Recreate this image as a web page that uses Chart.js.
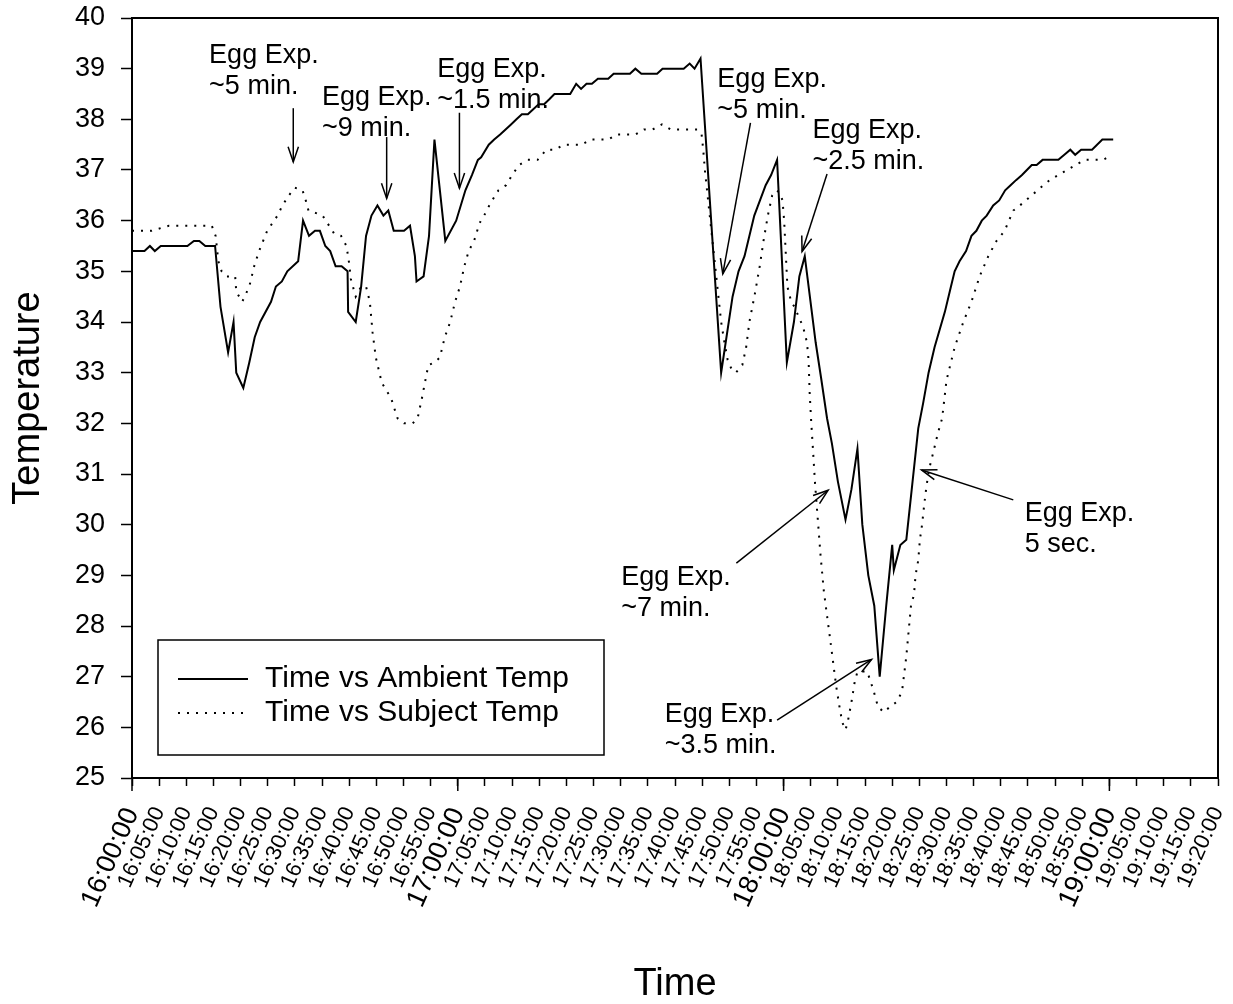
<!DOCTYPE html>
<html><head><meta charset="utf-8">
<script src="https://cdn.jsdelivr.net/npm/chart.js@4.4.0/dist/chart.umd.min.js"></script>
<style>html,body{margin:0;padding:0;background:#fff;}#wrap{width:1233px;height:1004px;}</style>
</head><body><div id="wrap"><canvas id="c" width="1233" height="1004"></canvas></div>
<script>
// minutes after 16:00:00
const ambientMinutes = [0,2.3,3.3,4.2,5.3,10.2,11.4,12.4,13.5,15.3,16.3,17.7,18.7,19.2,20.5,21.6,22.6,23.6,25.6,26.5,27.6,28.6,30.6,31.5,32.6,33.7,34.6,35.6,36.5,37.5,38.6,39.7,39.8,41.2,42.2,43.1,44.1,45.2,46.3,47.2,48.2,50.1,51.2,52.1,52.4,53.7,54.7,55.7,57.7,59.7,61.4,62.6,63.7,64.3,65.7,66.7,67.8,68.8,69.8,70.8,71.8,72.9,73.9,74.9,75.9,76.9,77.8,80.7,81.8,82.7,83.7,84.7,85.8,87.7,88.7,91.7,92.7,93.8,96.7,97.7,101.6,102.7,103.6,104.7,108.5,110.6,111.7,112.8,114.6,116.7,117.7,118.8,120.6,121.9,122.9,123.9,125.9,126.9,128.0,128.9,130.0,131.4,132.5,133.6,134.5,135.6,136.7,137.7,138.9,140.0,140.3,141.5,142.6,143.7,144.8,145.7,146.7,147.8,149.7,150.6,151.5,152.4,153.6,154.6,155.5,156.5,157.4,158.6,159.7,160.8,161.8,162.8,163.9,164.8,165.7,166.6,167.7,170.6,171.7,172.8,173.7,174.8,176.8,178.7,180.7];
const ambientTemp = [35.4,35.4,35.5,35.4,35.5,35.5,35.6,35.6,35.5,35.5,34.3,33.4,34.0,33.0,32.7,33.2,33.7,34.0,34.4,34.7,34.8,35.0,35.2,36.0,35.7,35.8,35.8,35.5,35.4,35.1,35.1,35.0,34.2,34.0,34.7,35.7,36.1,36.3,36.1,36.2,35.8,35.8,35.9,35.3,34.8,34.9,35.7,37.6,35.6,36.0,36.6,36.9,37.2,37.25,37.5,37.6,37.7,37.8,37.9,38.0,38.1,38.1,38.2,38.3,38.3,38.4,38.5,38.5,38.7,38.6,38.7,38.7,38.8,38.8,38.9,38.9,39.0,38.9,38.9,39.0,39.0,39.1,39.0,39.2,33.0,34.5,35.0,35.3,36.1,36.7,36.9,37.2,33.2,34.0,34.9,35.3,33.6,32.9,32.1,31.6,30.85,30.1,30.7,31.5,30.0,29.0,28.4,27.0,28.4,29.6,29.1,29.6,29.7,30.8,31.9,32.4,33.0,33.5,34.2,34.6,35.0,35.2,35.4,35.7,35.8,36.0,36.1,36.3,36.4,36.6,36.7,36.8,36.9,37.0,37.1,37.1,37.2,37.2,37.3,37.4,37.3,37.4,37.4,37.6,37.6];
const subjectMinutes = [0,3.6,6.8,14.7,15.4,15.9,16.5,17.4,18.2,19.0,19.2,20.3,21.6,22.5,23.4,24.9,26.8,27.7,28.9,30.0,31.4,32.0,32.5,33.9,35.1,36.3,37.2,38.5,39.5,40.0,40.3,41.2,42.2,43.1,43.8,44.3,44.9,46.0,47.7,48.9,50.1,51.7,52.6,53.4,54.3,54.6,55.7,56.7,57.6,58.6,59.5,60.4,61.2,62.0,63.0,64.0,65.1,65.8,66.9,67.5,68.9,70.0,71.3,72.9,74.7,76.3,77.9,79.5,82.8,84.4,86.1,87.7,89.3,91.0,92.7,94.3,95.9,97.6,99.2,104.1,104.9,105.2,105.5,106.2,106.8,107.4,108.0,108.5,109.1,109.7,110.3,111.2,112.4,113.1,113.7,114.7,115.6,116.3,117.1,117.9,118.7,119.3,119.8,120.1,120.4,120.7,121.4,122.0,122.8,123.6,124.3,124.6,124.8,125.1,125.4,125.8,126.3,126.8,127.4,128.0,128.5,129.1,129.7,130.3,130.8,131.4,131.8,132.5,133.1,133.6,134.6,135.4,136.5,137.4,138.5,139.5,140.8,141.8,142.2,142.6,142.9,143.2,143.5,144.0,144.3,144.8,145.1,145.5,145.9,146.3,146.8,147.5,148.4,149.2,150.0,151.5,153.1,154.6,156.1,157.7,159.2,160.7,162.3,164.1,165.7,167.3,169.0,170.6,172.2,173.8,175.5,177.3,178.9,180.4];
const subjectTemp = [35.8,35.8,35.9,35.9,35.7,35.2,35.0,34.9,34.9,34.9,34.6,34.4,34.7,35.1,35.4,35.8,36.1,36.3,36.5,36.65,36.6,36.4,36.2,36.15,36.1,35.9,35.75,35.7,35.5,35.15,34.85,34.5,34.7,34.7,34.4,33.8,33.3,32.8,32.5,32.1,32.0,32.0,32.1,32.5,33.0,33.15,33.2,33.3,33.7,34.0,34.4,34.7,35.1,35.4,35.6,35.95,36.15,36.3,36.5,36.6,36.7,36.9,37.1,37.2,37.2,37.4,37.4,37.5,37.5,37.6,37.6,37.6,37.7,37.7,37.7,37.8,37.8,37.9,37.8,37.8,37.7,37.4,37.0,36.3,35.7,35.1,34.5,34.0,33.6,33.25,33.1,33.0,33.15,33.5,34.0,34.55,35.1,35.6,36.1,36.5,36.6,36.55,36.4,36.0,35.35,34.7,34.4,34.3,34.1,33.9,33.6,33.25,32.6,32.0,31.5,30.8,30.1,29.4,28.7,28.2,27.8,27.3,26.8,26.4,26.1,25.95,26.1,26.5,26.9,27.1,27.1,27.1,26.75,26.4,26.3,26.4,26.5,26.7,27.05,27.4,27.75,28.1,28.45,28.6,29.0,29.3,29.7,30.0,30.4,30.75,31.1,31.4,31.8,32.1,32.85,33.5,34.0,34.4,34.9,35.3,35.6,35.8,36.2,36.35,36.5,36.65,36.8,36.9,37.0,37.1,37.2,37.2,37.2,37.3];
const xTickLabels = ["16:00:00","16:05:00","16:10:00","16:15:00","16:20:00","16:25:00","16:30:00","16:35:00","16:40:00","16:45:00","16:50:00","16:55:00","17:00:00","17:05:00","17:10:00","17:15:00","17:20:00","17:25:00","17:30:00","17:35:00","17:40:00","17:45:00","17:50:00","17:55:00","18:00:00","18:05:00","18:10:00","18:15:00","18:20:00","18:25:00","18:30:00","18:35:00","18:40:00","18:45:00","18:50:00","18:55:00","19:00:00","19:05:00","19:10:00","19:15:00","19:20:00"];
const seriesNames = ["Time vs Ambient Temp","Time vs Subject Temp"];
// annotations: text anchor and arrow (tail -> tip) in data coordinates (minutes, temperature)
const annotations = [
  {lines:["Egg Exp.","~5 min."],   text:[14.2,39.11], tail:[29.7,38.22], tip:[29.7,37.16]},
  {lines:["Egg Exp.","~9 min."],   text:[35.0,38.28], tail:[46.9,37.65], tip:[46.9,36.44]},
  {lines:["Egg Exp.","~1.5 min."], text:[56.2,38.84], tail:[60.3,38.13], tip:[60.3,36.64]},
  {lines:["Egg Exp.","~5 min."],   text:[107.8,38.64], tail:[113.9,37.93], tip:[108.8,34.95]},
  {lines:["Egg Exp.","~2.5 min."], text:[125.3,37.63], tail:[128.0,36.92], tip:[123.4,35.39]},
  {lines:["Egg Exp.","~7 min."],   text:[90.1,28.81], tail:[111.3,29.24], tip:[128.2,30.68]},
  {lines:["Egg Exp.","~3.5 min."], text:[98.1,26.11], tail:[118.8,26.14], tip:[136.2,27.34]},
  {lines:["Egg Exp.","5 sec."],    text:[164.4,30.07], tail:[162.3,30.49], tip:[145.4,31.08]}
];

const FONT = "'Liberation Sans', Arial, sans-serif";
const toXY = (xs, ys) => xs.map((x, i) => ({x, y: ys[i]}));

function drawArrow(ctx, x1, y1, x2, y2) {
  ctx.beginPath(); ctx.moveTo(x1, y1); ctx.lineTo(x2, y2); ctx.stroke();
  const a = Math.atan2(y2 - y1, x2 - x1), L = 16, h = 0.33;
  ctx.beginPath();
  ctx.moveTo(x2 - L*Math.cos(a - h), y2 - L*Math.sin(a - h));
  ctx.lineTo(x2, y2);
  ctx.lineTo(x2 - L*Math.cos(a + h), y2 - L*Math.sin(a + h));
  ctx.stroke();
}

const decorPlugin = {
  id: 'decor',
  afterDraw(chart) {
    const {ctx, chartArea: a, scales: {x, y}} = chart;
    ctx.save();
    ctx.strokeStyle = '#000'; ctx.lineWidth = 2;
    ctx.strokeRect(a.left, a.top, a.right - a.left, a.bottom - a.top);
    // longer major (hour) ticks
    ctx.lineWidth = 1.5;
    x.ticks.forEach(t => {
      if (t.value % 60 === 0) {
        const px = x.getPixelForValue(t.value);
        ctx.beginPath(); ctx.moveTo(px, a.bottom); ctx.lineTo(px, a.bottom + 13); ctx.stroke();
      }
    });
    // annotations
    ctx.fillStyle = '#000'; ctx.font = '27px ' + FONT; ctx.textBaseline = 'alphabetic'; ctx.textAlign = 'left';
    ctx.lineWidth = 1.5;
    annotations.forEach(an => {
      const tx = x.getPixelForValue(an.text[0]), ty = y.getPixelForValue(an.text[1]);
      an.lines.forEach((s, i) => ctx.fillText(s, tx, ty + i * 31));
      drawArrow(ctx, x.getPixelForValue(an.tail[0]), y.getPixelForValue(an.tail[1]),
                     x.getPixelForValue(an.tip[0]), y.getPixelForValue(an.tip[1]));
    });
    // legend box
    const bx = a.left + 26, bw = 446, bh = 115, by = a.bottom - 23 - bh;
    ctx.lineWidth = 1.5;
    ctx.strokeRect(bx, by, bw, bh);
    ctx.font = '30px ' + FONT; ctx.textBaseline = 'alphabetic';
    chart.data.datasets.forEach((ds, i) => {
      const ly = by + 39 + i * 34;
      ctx.save();
      ctx.lineWidth = ds.borderWidth; ctx.setLineDash(ds.borderDash || []);
      ctx.beginPath(); ctx.moveTo(bx + 20, ly); ctx.lineTo(bx + 90, ly); ctx.stroke();
      ctx.restore();
      ctx.fillText(ds.label, bx + 107, by + 47 + i * 34);
    });
    ctx.restore();
  }
};

new Chart(document.getElementById('c'), {
  type: 'line',
  data: {
    datasets: [
      {label: seriesNames[0], data: toXY(ambientMinutes, ambientTemp), borderColor: '#000', borderWidth: 2, pointRadius: 0, tension: 0, fill: false},
      {label: seriesNames[1], data: toXY(subjectMinutes, subjectTemp), borderColor: '#000', borderWidth: 2, borderDash: [2, 7], pointRadius: 0, tension: 0, fill: false}
    ]
  },
  options: {
    responsive: false, animation: false, devicePixelRatio: 1,
    layout: {padding: {top: 18, right: 15, left: 0, bottom: 0}},
    plugins: {legend: {display: false}, tooltip: {enabled: false}},
    scales: {
      x: {
        type: 'linear', min: 0, max: 200,
        afterFit(s) { s.height = 226; s.paddingLeft = 0; s.paddingRight = 0; },
        ticks: {
          stepSize: 5, autoSkip: false, maxRotation: 66, minRotation: 66, padding: 17, color: '#000',
          font: ctx => ({family: FONT, size: (ctx.tick && ctx.tick.value % 60 === 0) ? 27 : 22}),
          callback: v => xTickLabels[Math.round(v / 5)]
        },
        grid: {drawOnChartArea: false, drawTicks: true, tickLength: 8, tickColor: '#000', tickWidth: 1.5},
        border: {color: '#000', width: 2},
        title: {display: true, text: 'Time', color: '#000', font: {family: FONT, size: 38, lineHeight: 1}, padding: {top: 0, bottom: 0}}
      },
      y: {
        min: 25, max: 40,
        afterFit(s) { s.width = 132; s.paddingTop = 0; s.paddingBottom = 0; },
        ticks: {stepSize: 1, color: '#000', padding: 16, font: {family: FONT, size: 27}},
        grid: {drawOnChartArea: false, drawTicks: true, tickLength: 11, tickColor: '#000', tickWidth: 1.5},
        border: {color: '#000', width: 2},
        title: {display: true, text: 'Temperature', color: '#000', font: {family: FONT, size: 38, lineHeight: 1}, padding: {top: 10, bottom: 0}}
      }
    }
  },
  plugins: [decorPlugin]
});
</script></body></html>
